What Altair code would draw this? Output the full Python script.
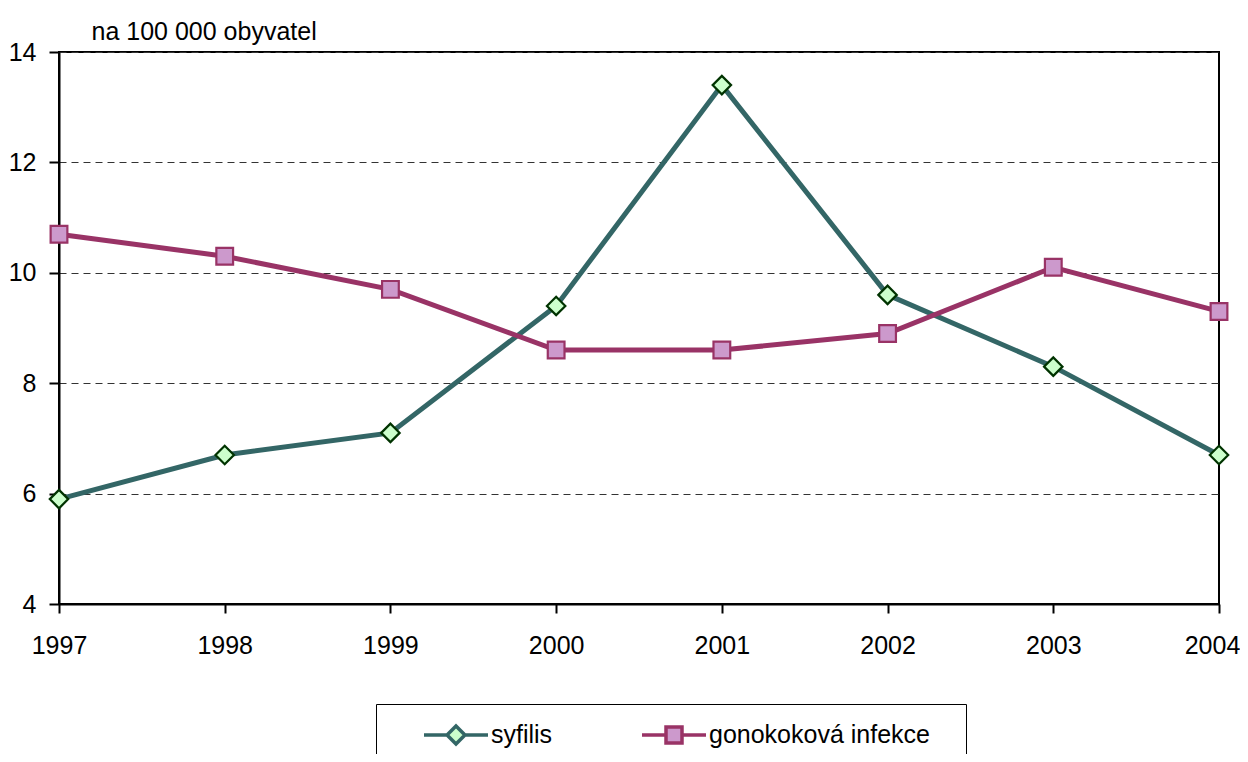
import altair as alt
import pandas as pd

years = [1997, 1998, 1999, 2000, 2001, 2002, 2003, 2004]
syfilis = [5.9, 6.7, 7.1, 9.4, 13.4, 9.6, 8.3, 6.7]
gonokokova = [10.7, 10.3, 9.7, 8.6, 8.6, 8.9, 10.1, 9.3]
series_names = ["syfilis", "gonokoková infekce"]
line_colors = ["#336666", "#993366"]
marker_fills = ["#CCFFCC", "#CC99CC"]
marker_strokes = ["#003300", "#993366"]
marker_shapes = ["diamond", "square"]
marker_sizes = [340, 280]
legend_shapes = [
    "M-1,0L-0.28,0M0.28,0L1,0M0,-0.28L0.28,0L0,0.28L-0.28,0Z",
    "M-1,0L-0.25,0M0.25,0L1,0M-0.25,-0.25L0.25,-0.25L0.25,0.25L-0.25,0.25Z",
]
y_ticks = [4, 6, 8, 10, 12, 14]
y_title = "na 100 000 obyvatel"

FONT = "Liberation Sans, Arial, sans-serif"

rows = []
for name, vals in zip(series_names, [syfilis, gonokokova]):
    for yr, v in zip(years, vals):
        rows.append({"rok": yr, "hodnota": v, "serie": name})
df = pd.DataFrame(rows)

x_enc = alt.X(
    "rok:Q",
    scale=alt.Scale(domain=[1997, 2004], nice=False, zero=False),
    axis=alt.Axis(
        values=years, format="d", title=None, grid=False,
        labelFlush=False, labelOverlap=False, labelFont=FONT, labelFontSize=25,
        labelColor="black", labelPadding=20, tickSize=9, tickWidth=2,
        labelOffset={"condition": {"test": "datum.value == 2004", "value": -7}, "value": 0},
        tickColor="black", domainColor="black", domainWidth=2,
    ),
)
y_enc = alt.Y(
    "hodnota:Q",
    scale=alt.Scale(domain=[4, 14], nice=False, zero=False),
    axis=alt.Axis(
        values=y_ticks, title=y_title, titleAngle=0, titleX=32, titleY=-13,
        titleAlign="left", titleBaseline="alphabetic", titleFont=FONT,
        titleFontSize=25, titleFontWeight="normal", titleColor="black",
        labelFont=FONT, labelFontSize=25, labelColor="black", labelPadding=13,
        tickSize=10, tickWidth=2, tickColor="black",
        domainColor="black", domainWidth=2,
        grid=True, gridDash=[7, 5], gridColor="#333333", gridWidth=1,
    ),
)

base = alt.Chart(df)

lines = base.mark_line(strokeWidth=5).encode(
    x=x_enc, y=y_enc,
    color=alt.Color("serie:N", scale=alt.Scale(domain=series_names, range=line_colors), legend=None),
)

points = base.mark_point(filled=True, strokeWidth=2.2, opacity=1).encode(
    x="rok:Q", y="hodnota:Q",
    shape=alt.Shape("serie:N", scale=alt.Scale(domain=series_names, range=marker_shapes), legend=None),
    fill=alt.Fill("serie:N", scale=alt.Scale(domain=series_names, range=marker_fills), legend=None),
    stroke=alt.Stroke("serie:N", scale=alt.Scale(domain=series_names, range=marker_strokes), legend=None),
    size=alt.Size("serie:N", scale=alt.Scale(domain=series_names, range=marker_sizes), legend=None),
)

leg = alt.Legend(
    title="\u00a0", titleOrient="right", titlePadding=20, titleFontSize=25,
    titleFont=FONT, titleColor="white",
    orient="none", legendX=317, legendY=652, direction="horizontal",
    columns=2, padding=16, strokeColor="black", fillColor="white",
    symbolSize=4096, symbolStrokeWidth=3.5, symbolOffset=30, symbolOpacity=1,
    labelOffset=1, columnPadding=57, clipHeight=30, labelLimit=500,
    labelFont=FONT, labelFontSize=25, labelColor="black",
)

legend_layer = base.mark_point(filled=True, opacity=0).encode(
    x="rok:Q", y="hodnota:Q",
    shape=alt.Shape("serie:N", scale=alt.Scale(domain=series_names, range=legend_shapes), legend=leg),
    fill=alt.Fill("serie:N", scale=alt.Scale(domain=series_names, range=marker_fills), legend=leg),
    stroke=alt.Stroke("serie:N", scale=alt.Scale(domain=series_names, range=line_colors), legend=leg),
)

chart = alt.layer(lines, points, legend_layer).resolve_scale(
    shape="independent", fill="independent", stroke="independent", size="independent"
).properties(
    width=1160, height=552,
    autosize=alt.AutoSizeParams(type="none"),
    padding={"left": 51, "top": 44, "right": 21, "bottom": 150},
    background="white",
).configure_view(stroke="black", strokeWidth=2)

chart.save("out.html", embed_options={"renderer": "svg", "actions": False})
